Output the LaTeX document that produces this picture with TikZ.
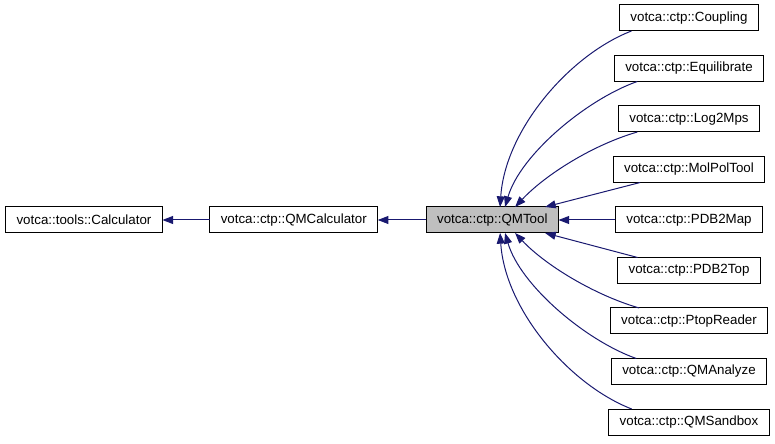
\documentclass[tikz,border=0pt]{standalone}
\usepackage{fontspec}
\setmainfont{Liberation Sans}
\usetikzlibrary{arrows.meta,positioning,calc}
\definecolor{ink}{HTML}{000000}
\definecolor{navy}{HTML}{191970}
\definecolor{hilite}{HTML}{BFBFBF}
\tikzset{
  cls/.style={draw=ink, fill=#1, line width=0.75pt, outer sep=0pt, minimum height=19.5pt, inner xsep=8.25pt, inner ysep=0pt, font=\fontsize{10}{12}\selectfont},
  cls/.default=white,
  arr/.style={-{Triangle[length=8pt,width=6pt]}, line width=0.75pt, draw=navy}
}
\begin{document}
\begin{tikzpicture}[x=0.75pt, y=0.75pt, font=\fontsize{10}{12}\selectfont, node distance=18.375pt]
  \useasboundingbox (0,0) rectangle (775,443);

  \node[cls] (calc) at (84,223) {votca::tools::Calculator};
  \node[cls, right=35.5pt of calc] (qmcalc) {votca::ctp::QMCalculator};
  \node[cls=hilite, right=36.25pt of qmcalc] (qmtool) {votca::ctp::QMTool};
  \draw[arr] (qmcalc) -- (calc);
  \draw[arr] (qmtool) -- (qmcalc);

  \node[cls] (coupling) at (689,425) {votca::ctp::Coupling};
  \node[cls, below=of coupling] (equil) {votca::ctp::Equilibrate};
  \node[cls, below=of equil] (logmps) {votca::ctp::Log2Mps};
  \node[cls, below=of logmps] (molpol) {votca::ctp::MolPolTool};
  \node[cls, below=of molpol] (pdbmap) {votca::ctp::PDB2Map};
  \node[cls, below=of pdbmap] (pdbtop) {votca::ctp::PDB2Top};
  \node[cls, below=of pdbtop] (ptop) {votca::ctp::PtopReader};
  \node[cls, below=of ptop] (analyze) {votca::ctp::QMAnalyze};
  \node[cls, below=of analyze] (sandbox) {votca::ctp::QMSandbox};

  \draw[arr] ($(coupling.south west)+(12,0)$) .. controls +(-62,-24) and +(5,77) .. ($(qmtool.north west)+(74,0)$);
  \draw[arr] ($(equil.south west)+(23,0)$) .. controls +(-51,-18) and +(15,52) .. ($(qmtool.north west)+(79,0)$);
  \draw[arr] ($(logmps.south west)+(19,0)$) .. controls +(-45,-13) and +(30,32) .. ($(qmtool.north west)+(89,0)$);
  \draw[arr] ($(molpol.south west)+(27,0)$) -- ($(qmtool.north west)+(119,0)$);
  \draw[arr] (pdbmap.west) -- (qmtool.east);
  \draw[arr] ($(pdbtop.north west)+(20,0)$) -- ($(qmtool.south west)+(119,0)$);
  \draw[arr] ($(ptop.north west)+(29,0)$) .. controls +(-45,13) and +(30,-32) .. ($(qmtool.south west)+(89,0)$);
  \draw[arr] ($(analyze.north west)+(25,0)$) .. controls +(-51,18) and +(15,-52) .. ($(qmtool.south west)+(79,0)$);
  \draw[arr] ($(sandbox.north west)+(23,0)$) .. controls +(-62,24) and +(5,-77) .. ($(qmtool.south west)+(74,0)$);
\end{tikzpicture}
\end{document}
